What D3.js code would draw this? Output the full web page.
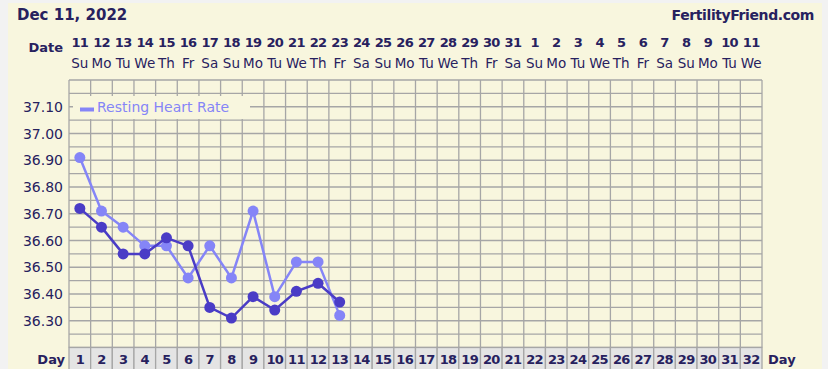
<!DOCTYPE html>
<html>
<head>
<meta charset="utf-8">
<script src="https://cdn.jsdelivr.net/npm/d3@7"></script>
<style>
  html, body { margin: 0; padding: 0; background: #f2f2f2; }
  svg { display: block; }
  text { font-family: "DejaVu Sans", Verdana, sans-serif; fill: #27215e; }
</style>
</head>
<body>
<svg></svg>
<script>
const cycleDays = [1,2,3,4,5,6,7,8,9,10,11,12,13,14,15,16,17,18,19,20,21,22,23,24,25,26,27,28,29,30,31,32];
const dateNums = [11,12,13,14,15,16,17,18,19,20,21,22,23,24,25,26,27,28,29,30,31,1,2,3,4,5,6,7,8,9,10,11];
const weekdays = ['Su','Mo','Tu','We','Th','Fr','Sa','Su','Mo','Tu','We','Th','Fr','Sa','Su','Mo',
                  'Tu','We','Th','Fr','Sa','Su','Mo','Tu','We','Th','Fr','Sa','Su','Mo','Tu','We'];
const tempTicks = [36.30, 36.40, 36.50, 36.60, 36.70, 36.80, 36.90, 37.00, 37.10];
const gridTicks = [36.20,36.25,36.30,36.35,36.40,36.45,36.50,36.55,36.60,36.65,36.70,36.75,36.80,36.85,36.90,36.95,37.00,37.05,37.10,37.15,37.20];

// temperature (dark) and resting heart rate (light), days 1-13
const tempDays = [1,2,3,4,5,6,7,8,9,10,11,12,13];
const temps = [36.72,36.65,36.55,36.55,36.61,36.58,36.35,36.31,36.39,36.34,36.41,36.44,36.37];
const rhr = [36.91,36.71,36.65,36.58,36.58,36.46,36.58,36.46,36.71,36.39,36.52,36.52,36.32];

const W = 828, H = 369;
const svg = d3.select('svg').attr('width', W).attr('height', H);

svg.append('rect').attr('x', 8).attr('y', 3).attr('width', 814).attr('height', H).attr('fill', '#f8f6de');

const x = d3.scaleBand().domain(cycleDays).range([69, 762]);
const y = d3.scaleLinear().domain([36.2, 37.2]).range([347.5, 80]);
const cx = d => x(d) + x.bandwidth() / 2;

const grid = svg.append('g').attr('stroke', '#a6a6a6').attr('stroke-width', 1.3);

// day row cells
svg.append('g').selectAll('rect').data(cycleDays).enter().append('rect')
  .attr('x', d => x(d)).attr('y', 347.5)
  .attr('width', x.bandwidth()).attr('height', 30)
  .attr('fill', '#e4e4e4').attr('stroke', '#a6a6a6').attr('stroke-width', 1.3);

grid.selectAll('.v').data(cycleDays.concat([33])).enter().append('line')
  .attr('x1', d => d === 33 ? 762 : x(d)).attr('x2', d => d === 33 ? 762 : x(d))
  .attr('y1', 80).attr('y2', 347.5);
grid.selectAll('.h').data(gridTicks).enter().append('line')
  .attr('x1', 69).attr('x2', 762)
  .attr('y1', d => y(d)).attr('y2', d => y(d));

// y labels
svg.append('g').selectAll('text').data(tempTicks).enter().append('text')
  .attr('x', 63).attr('y', d => y(d) + 5)
  .attr('text-anchor', 'end').style('font-size', '14px')
  .text(d => d.toFixed(2));

// header
svg.append('text').attr('x', 17).attr('y', 20).style('font-size', '15px').style('font-weight', 'bold').text('Dec 11, 2022');
svg.append('text').attr('x', 814).attr('y', 20).attr('text-anchor', 'end').style('font-size', '14px').style('font-weight', 'bold').style('letter-spacing', '-0.4px').text('FertilityFriend.com');
svg.append('text').attr('x', 63).attr('y', 52).attr('text-anchor', 'end').style('font-size', '13px').style('font-weight', 'bold').text('Date');

svg.append('g').selectAll('text').data(cycleDays).enter().append('text')
  .attr('x', d => cx(d)).attr('y', 47).attr('text-anchor', 'middle')
  .style('font-size', '13px').style('font-weight', 'bold').style('letter-spacing', '-0.7px')
  .text((d, i) => dateNums[i]);
svg.append('g').selectAll('text').data(cycleDays).enter().append('text')
  .attr('x', d => cx(d)).attr('y', 68).attr('text-anchor', 'middle')
  .style('font-size', '13.5px')
  .text((d, i) => weekdays[i]);

// bottom day numbers
svg.append('g').selectAll('text').data(cycleDays).enter().append('text')
  .attr('x', d => cx(d)).attr('y', 364).attr('text-anchor', 'middle')
  .style('font-size', '13px').style('font-weight', 'bold').style('letter-spacing', '-0.7px')
  .text(d => d);
svg.append('text').attr('x', 65).attr('y', 364).attr('text-anchor', 'end').style('font-size', '13px').style('font-weight', 'bold').text('Day');
svg.append('text').attr('x', 768).attr('y', 364).style('font-size', '13px').style('font-weight', 'bold').text('Day');

// legend
const lg = svg.append('g');
lg.append('rect').attr('x', 73).attr('y', 96).attr('width', 177).attr('height', 23).attr('fill', '#f8f6de');
lg.append('rect').attr('x', 80).attr('y', 107.5).attr('width', 14).attr('height', 4).attr('fill', '#8585f7');
lg.append('text').attr('x', 97).attr('y', 112).style('font-size', '14px').style('fill', '#8585f7').text('Resting Heart Rate');

// series
const line = d3.line().x(d => cx(d[0])).y(d => y(d[1]));
const series = [
  { vals: rhr, color: '#8585f7' },
  { vals: temps, color: '#4a3cc6' }
];
series.forEach(s => {
  const pts = tempDays.map((d, i) => [d, s.vals[i]]);
  svg.append('path').datum(pts).attr('d', line)
    .attr('fill', 'none').attr('stroke', s.color).attr('stroke-width', 2.5);
  svg.append('g').selectAll('circle').data(pts).enter().append('circle')
    .attr('cx', d => cx(d[0])).attr('cy', d => y(d[1])).attr('r', 5.5)
    .attr('fill', s.color);
});
</script>
</body>
</html>
